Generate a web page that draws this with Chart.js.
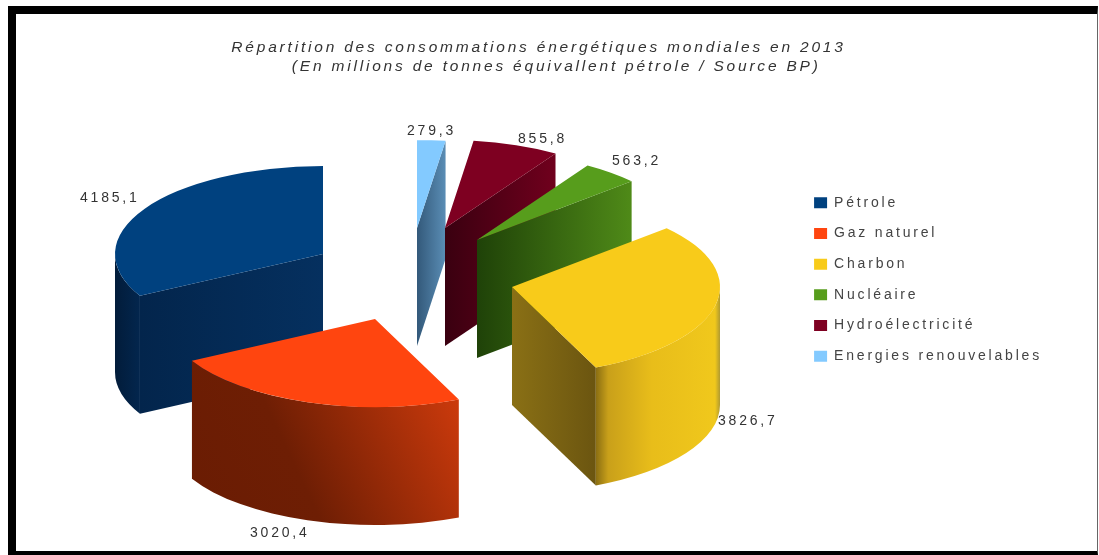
<!DOCTYPE html>
<html>
<head>
<meta charset="utf-8">
<style>
  html, body { margin: 0; padding: 0; background: #fff; }
  #frame { position: absolute; left: 8px; top: 6px; width: 1081px; height: 537px;
           border-left: 8px solid #000; border-top: 8px solid #000;
           border-right: 1px solid #666; border-bottom: 4px solid #000; }
  #chart { position: absolute; left: 0; top: 0; }
</style>
</head>
<body>
<div id="frame"></div>
<canvas id="chart" width="1099" height="555"></canvas>
<script src="https://cdn.jsdelivr.net/npm/chart.js@4/dist/chart.umd.min.js"></script>
<script>
const categories = ['Pétrole', 'Gaz naturel', 'Charbon', 'Nucléaire', 'Hydroélectricité', 'Energies renouvelables'];
const valueLabels = ['4185,1', '3020,4', '3826,7', '563,2', '855,8', '279,3'];
const values = valueLabels.map(s => parseFloat(s.replace(',', '.')));
// second line sits a bit right of the first, hence the leading spaces
const titleLines = [
  'Répartition des consommations énergétiques mondiales en 2013',
  '     (En millions de tonnes équivallent pétrole / Source BP)'
];

const topColors = ['#00417f', '#ff450f', '#f8cb1a', '#579d1c', '#7e0021', '#83caff'];
// one [offset, colour] list per slice, for the cut face and the outer rim
const faceStops = [
  [[0, '#03254c'], [1, '#05305f']],
  [[0, '#6e2004'], [1, '#b5330b']],
  [[0, '#8a7015'], [1, '#6b5510']],
  [[0, '#1f4208'], [1, '#4f8a18']],
  [[0, '#3a0010'], [1, '#70001d']],
  [[0, '#33597a'], [1, '#5a8db5']]
];
const rimStops = [
  [[0, '#021c3a'], [1, '#03264e']],
  [[0, '#6a1c03'], [0.4, '#6e1e04'], [1, '#cc3a0c']],
  [[0, '#8a6e12'], [0.1, '#c9a01a'], [0.45, '#e8bd1a'], [0.96, '#f0c81c'], [1, '#b09a30']],
  [[0, '#4f8a18'], [1, '#4f8a18']],
  [[0, '#70001d'], [1, '#70001d']],
  [[0, '#5a8db5'], [1, '#5a8db5']]
];
// red rim lightens towards its upper right corner
const rimTilt = [false, true, false, false, false, false];

// exploded layout: where each slice's apex sits, relative to the pie centre
const pieCenter = { x: 400, y: 260 };
const sliceShift = [[-77, -6], [-25, 59], [112, 27], [77, -20], [45, -32], [17, -32]];
const labelPos = [[80, 198], [250, 533], [718, 421], [612, 161], [518, 139], [407, 131]];

const pieRadius = 208;
const squash = 88 / 208;
const depth = 118;
const spacing = '2.8px';

// the pie runs clockwise, these slices run the other way: feed it reversed
const rev = a => a.slice().reverse();

function gradient(ctx, x0, y0, x1, y1, stops) {
  const g = ctx.createLinearGradient(x0, y0, x1, y1);
  stops.forEach(s => g.addColorStop(s[0], s[1]));
  return g;
}

const pie3d = {
  id: 'pie3d',
  beforeLayout(chart) { chart.ctx.letterSpacing = spacing; },
  beforeDraw(chart) { chart.ctx.letterSpacing = spacing; },
  beforeDatasetDraw(chart) {
    const ctx = chart.ctx;
    const n = categories.length;
    const arcs = chart.getDatasetMeta(0).data.map((arc, i) => {
      const k = n - 1 - i;
      return { arc, k, cx: pieCenter.x + sliceShift[k][0], cy: pieCenter.y + sliceShift[k][1] };
    });
    arcs.sort((a, b) => a.cy - b.cy);
    for (const { arc, k, cx, cy } of arcs) {
      const { startAngle: a0, endAngle: a1, outerRadius: rx } = arc.getProps(['startAngle', 'endAngle', 'outerRadius'], true);
      const ry = rx * squash;
      const px = a => cx + rx * Math.cos(a);
      const py = a => cy + ry * Math.sin(a);
      const cutFace = a => {
        ctx.beginPath();
        ctx.moveTo(cx, cy);
        ctx.lineTo(px(a), py(a));
        ctx.lineTo(px(a), py(a) + depth);
        ctx.lineTo(cx, cy + depth);
        ctx.closePath();
        ctx.fillStyle = gradient(ctx, Math.min(cx, px(a)), 0, Math.max(cx, px(a)), 0, faceStops[k]);
        ctx.fill();
      };
      if (Math.sin(a0 - Math.PI / 2) > 0) cutFace(a0);
      if (Math.sin(a1 + Math.PI / 2) > 0) cutFace(a1);

      const s = Math.max(a0, 0);
      const e = Math.min(a1, Math.PI);
      if (e > s) {
        const xa = Math.min(px(s), px(e));
        const xb = Math.max(px(s), px(e));
        ctx.beginPath();
        ctx.ellipse(cx, cy, rx, ry, 0, s, e);
        ctx.ellipse(cx, cy + depth, rx, ry, 0, e, s, true);
        ctx.closePath();
        ctx.fillStyle = rimTilt[k]
          ? gradient(ctx, xa, cy + ry + depth, xb, cy + ry * 0.9, rimStops[k])
          : gradient(ctx, xa, 0, xb, 0, rimStops[k]);
        ctx.fill();
      }

      ctx.save();
      ctx.translate(cx, cy);
      ctx.scale(1, squash);
      ctx.translate(-arc.x, -arc.y);
      arc.draw(ctx);
      ctx.restore();
    }
    return false;
  },
  afterDraw(chart) {
    const ctx = chart.ctx;
    ctx.save();
    ctx.font = '14px "Liberation Sans"';
    ctx.letterSpacing = spacing;
    ctx.fillStyle = '#333';
    ctx.textAlign = 'left';
    ctx.textBaseline = 'middle';
    valueLabels.forEach((t, i) => ctx.fillText(t, labelPos[i][0], labelPos[i][1]));
    ctx.restore();
  }
};

new Chart(document.getElementById('chart'), {
  type: 'pie',
  data: {
    labels: rev(categories),
    datasets: [{
      data: rev(values),
      backgroundColor: rev(topColors),
      borderWidth: 0,
      radius: pieRadius
    }]
  },
  options: {
    responsive: false,
    animation: false,
    events: [],
    layout: { padding: { top: 38, left: 25, right: 47, bottom: 34 } },
    plugins: {
      tooltip: { enabled: false },
      title: {
        display: true,
        text: titleLines,
        color: '#333',
        font: { family: '"Liberation Sans"', size: 15.5, style: 'italic', weight: 'normal', lineHeight: 1.25 },
        padding: 0
      },
      legend: {
        position: 'right',
        reverse: true,
        labels: {
          color: '#444',
          font: { family: '"Liberation Sans"', size: 14 },
          boxWidth: 13,
          boxHeight: 11,
          padding: 16.7
        }
      }
    }
  },
  plugins: [pie3d]
});
</script>
</body>
</html>
